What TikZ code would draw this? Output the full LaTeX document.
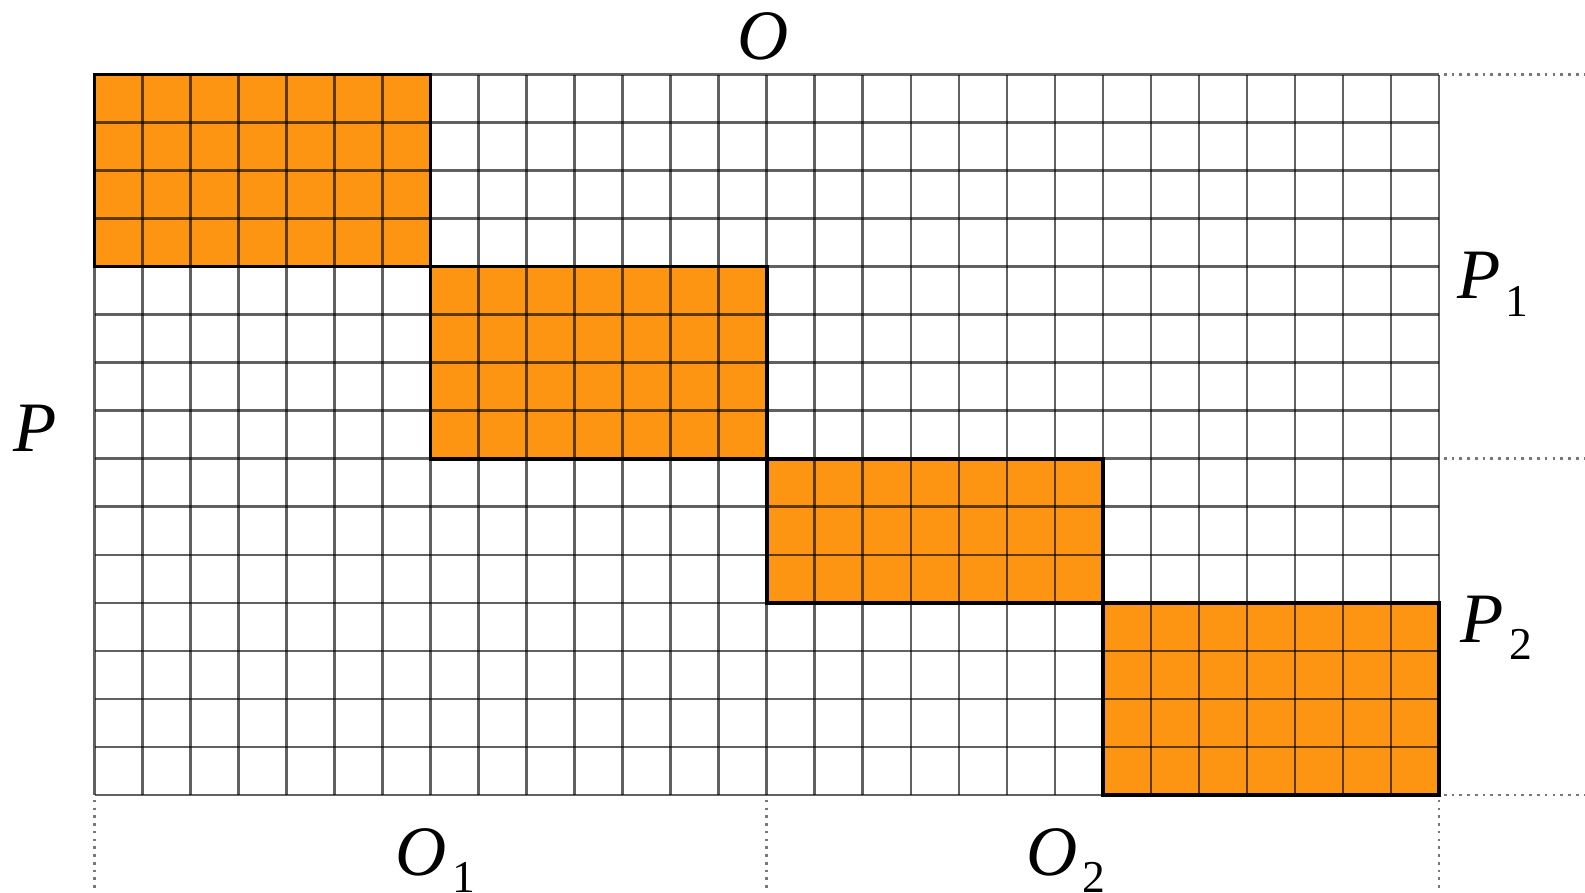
\documentclass[tikz,border=0pt]{standalone}
\usepackage{fontspec}
\setmainfont{Liberation Serif}
\usetikzlibrary{positioning}
\definecolor{blockorange}{RGB}{254,149,18}
\definecolor{guidegray}{RGB}{120,120,120}
\newcommand{\idx}[2]{\textit{#1}\kern1.5pt\raisebox{-0.25em}{\fontsize{13.5}{14}\selectfont #2}}

\begin{document}
\begin{tikzpicture}[x=0.5cm, y=-0.5cm,
    lbl/.style={inner sep=0pt, anchor=base west, font=\fontsize{21}{25}\selectfont},
    gridline/.style={black, opacity=0.62, line width=0.8pt},
    blockedge/.style={black, line width=1pt},
    guide/.style={guidegray, line width=0.8pt, dash pattern=on 0.8pt off 1.5pt}]
  \useasboundingbox (-1.97,-1.556) rectangle (31.04,17.03);
  % orange blocks
  \foreach \x/\y/\w/\h in {0/0/7/4, 7/4/7/4, 14/8/7/3, 21/11/7/4} {
    \fill[blockorange] (\x,\y) rectangle ++(\w,\h);
  }
  % grid
  \foreach \i in {0,...,28} \draw[gridline] (\i,0) -- (\i,15);
  \foreach \j in {0,...,15} \draw[gridline] (0,\j) -- (28,\j);
  \foreach \x/\y/\w/\h in {0/0/7/4, 7/4/7/4, 14/8/7/3, 21/11/7/4} {
    \draw[blockedge] (\x,\y) rectangle ++(\w,\h);
  }
  % dotted guides
  \foreach \y in {0,8,15} \draw[guide] (28.1,\y) -- (31.04,\y);
  \foreach \x in {0,14,28} \draw[guide] (\x,15.1) -- (\x,17.03);
  % labels
  \node[lbl] (o)  at (13.38,-0.31) {\textit{O}};
  \node[lbl] (p)  at (-1.70,7.84)  {\textit{P}};
  \node[lbl] (p1) at (28.36,4.67)  {\idx{P}{1}};
  \node[lbl] (p2) at (28.44,11.82) {\idx{P}{2}};
  \node[lbl] (o1) at (6.26,16.67)  {\idx{O}{1}};
  \node[lbl] (o2) at (19.39,16.67) {\idx{O}{2}};
\end{tikzpicture}
\end{document}
